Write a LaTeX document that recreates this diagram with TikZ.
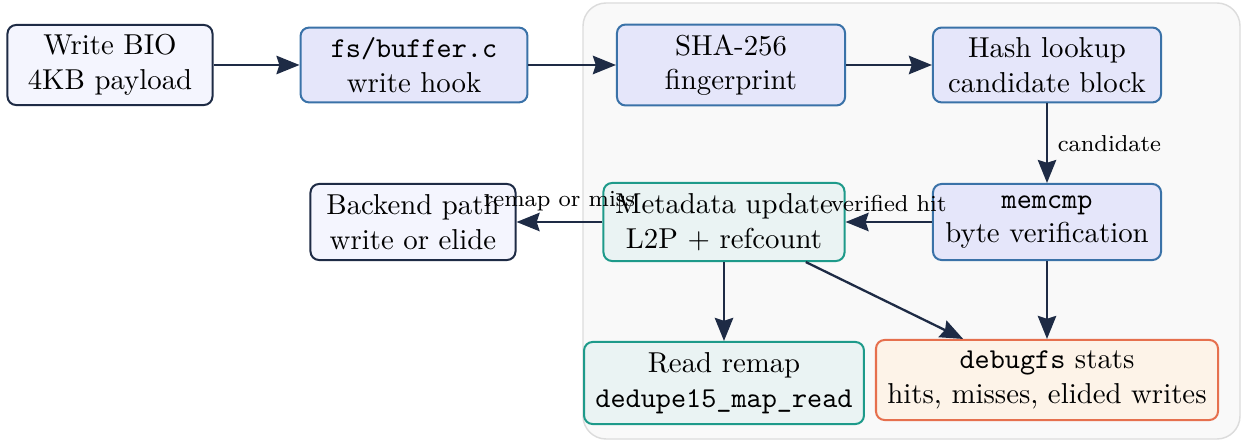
\documentclass[tikz,border=0pt]{standalone}
\usetikzlibrary{arrows.meta}
\definecolor{navy}{HTML}{1E2B45}
\definecolor{palefill}{HTML}{F4F5FE}
\definecolor{bluefill}{HTML}{E5E6FA}
\definecolor{bluedraw}{HTML}{3A72A8}
\definecolor{tealfill}{HTML}{EAF3F3}
\definecolor{tealdraw}{HTML}{1E9A8A}
\definecolor{orfill}{HTML}{FDF3E8}
\definecolor{ordraw}{HTML}{E6704E}
\definecolor{panelfill}{HTML}{F9F9F9}
\definecolor{paneldraw}{HTML}{DCDCDC}
\tikzset{
  box/.style={rectangle, rounded corners=3pt, line width=0.7pt, align=center, inner sep=3pt, font=\normalsize},
  pale/.style={box, draw=navy, fill=palefill},
  blue/.style={box, draw=bluedraw, fill=bluefill},
  teal/.style={box, draw=tealdraw, fill=tealfill},
  orng/.style={box, draw=ordraw, fill=orfill},
  arr/.style={draw=navy, line width=0.8pt, -{Stealth[length=8pt,width=6.4pt,inset=1pt]}},
  lbl/.style={font=\footnotesize, text=black}
}
\begin{document}
\begin{tikzpicture}[x=0.3472pt, y=-0.3472pt]
\useasboundingbox (0,0) rectangle (1244,441);
\draw[rounded corners=8pt, fill=panelfill, draw=paneldraw, line width=0.5pt] (583,3) rectangle (1240,439);

\node[pale, minimum width=71.2pt, minimum height=27.8pt] (bio) at (110,65) {Write BIO\\4KB payload};
\node[blue, minimum width=78.8pt, minimum height=26pt] (fs) at (414,65) {\texttt{fs/buffer.c}\\write hook};
\node[blue, minimum width=79.2pt, minimum height=28.1pt] (sha) at (731,65) {SHA-256\\fingerprint};
\node[blue, minimum width=79.2pt, minimum height=26pt] (hash) at (1047,65) {Hash lookup\\candidate block};
\node[blue, minimum width=79.2pt, minimum height=26.4pt] (cmp) at (1047,222) {\texttt{memcmp}\\byte verification};
\node[teal, minimum width=83.7pt, minimum height=27.1pt] (meta) at (724,222) {Metadata update\\L2P + refcount};
\node[pale, minimum width=71.2pt, minimum height=26.4pt] (back) at (413,222) {Backend path\\write or elide};
\node[teal, minimum width=97.2pt, minimum height=28.5pt] (read) at (724,383) {Read remap\\\texttt{dedupe15\_map\_read}};
\node[orng, minimum width=118.75pt, minimum height=27.8pt] (dbg) at (1047,380) {\texttt{debugfs} stats\\hits, misses, elided writes};

\draw[arr] (bio) -- (fs);
\draw[arr] (fs) -- (sha);
\draw[arr] (sha) -- (hash);
\draw[arr] (hash) -- node[lbl, right] {candidate} (cmp);
\draw[arr] (cmp) -- node[lbl, above] {verified hit} (meta);
\draw[arr] (meta) -- node[lbl, above] {remap or miss} (back);
\draw[arr] (meta) -- (read);
\draw[arr] (meta) -- (dbg);
\draw[arr] (cmp) -- (dbg);
\end{tikzpicture}
\end{document}
